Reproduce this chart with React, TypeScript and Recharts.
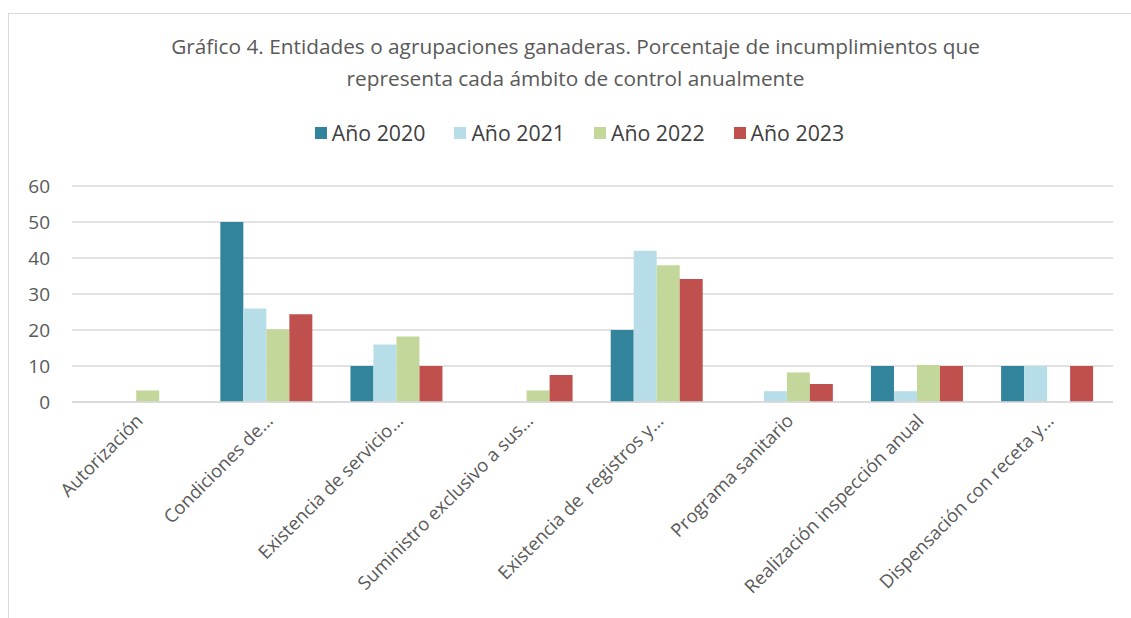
import React from 'react';
import { BarChart, Bar, XAxis, YAxis, CartesianGrid } from 'recharts';

const categories = [
  'Autorización',
  'Condiciones de…',
  'Existencia de servicio…',
  'Suministro exclusivo a sus…',
  'Existencia de  registros y…',
  'Programa sanitario',
  'Realización inspección anual',
  'Dispensación con receta y…',
];

const year2020 = [0, 50, 10, 0, 20, 0, 10, 10];
const year2021 = [0, 26, 16, 0, 42, 3, 3, 10];
const year2022 = [3.2, 20.2, 18.2, 3.2, 38, 8.2, 10.3, 0];
const year2023 = [0, 24.4, 10, 7.5, 34.2, 5, 10, 10];

const seriesNames = ['Año 2020', 'Año 2021', 'Año 2022', 'Año 2023'];
const seriesColors = ['#31849B', '#B7DEE8', '#C4D79B', '#C0504D'];
const yTicks = [0, 10, 20, 30, 40, 50, 60];

const titleLines = [
  'Gráfico 4. Entidades o agrupaciones ganaderas. Porcentaje de incumplimientos que',
  'representa cada ámbito de control anualmente',
];

const data = categories.map((name, i) => ({
  name,
  y2020: year2020[i],
  y2021: year2021[i],
  y2022: year2022[i],
  y2023: year2023[i],
}));
const keys = ['y2020', 'y2021', 'y2022', 'y2023'];

const FONT = '"Open Sans", Lato, sans-serif';

const AngledTick = (props: any) => {
  const { x, y, payload } = props;
  return (
    <g transform={`translate(${x + 7},${y + 12})`}>
      <text
        x={0}
        y={0}
        textAnchor="end"
        transform="rotate(-45)"
        fill="#595959"
        fontSize={18.4}
        fontFamily={FONT}
        style={{ whiteSpace: 'pre' }}
      >
        {payload.value}
      </text>
    </g>
  );
};

const App: React.FC = () => {
  return (
    <div style={{ position: 'absolute', left: 0, top: 0, width: 1131, height: 618, background: '#fff', fontFamily: FONT }}>
      <div style={{ position: 'absolute', left: 8, top: 13, width: 1123, height: 605, borderTop: '1.5px solid #d9d9d9', borderLeft: '1.5px solid #d9d9d9' }} />

      <div style={{ position: 'absolute', left: 0, top: 30, width: 1151, textAlign: 'center', color: '#595959', fontSize: 20.8, lineHeight: '32px' }}>
        {titleLines.map((t) => <div key={t}>{t}</div>)}
      </div>

      <div style={{ position: 'absolute', left: 14, top: 118, width: 1160, display: 'flex', justifyContent: 'center', color: '#404040', fontSize: 21.3, lineHeight: '30px' }}>
        {seriesNames.map((n, i) => (
          <div key={n} style={{ display: 'flex', alignItems: 'center', marginRight: 29 }}>
            <span style={{ display: 'inline-block', width: 12, height: 12, background: seriesColors[i], marginRight: 5 }} />
            <span>{n}</span>
          </div>
        ))}
      </div>

      <div style={{ position: 'absolute', left: 0, top: 0 }}>
        <BarChart
          width={1131}
          height={618}
          data={data}
          margin={{ top: 186, right: 18, bottom: 16, left: 0 }}
          barCategoryGap="14%"
          barGap={0}
        >
          <CartesianGrid vertical={false} stroke="#d9d9d9" strokeWidth={1.5} />
          <XAxis
            dataKey="name"
            interval={0}
            height={200}
            axisLine={{ stroke: '#d9d9d9', strokeWidth: 1.5 }}
            tickLine={false}
            tick={<AngledTick />}
          />
          <YAxis
            width={72}
            domain={[0, 60]}
            ticks={yTicks}
            axisLine={false}
            tickLine={false}
            tickSize={0}
            tickMargin={22}
            tick={{ fill: '#595959', fontSize: 19, fontFamily: FONT }}
          />
          {keys.map((k, i) => (
            <Bar key={k} dataKey={k} name={seriesNames[i]} fill={seriesColors[i]} isAnimationActive={false} />
          ))}
        </BarChart>
      </div>
    </div>
  );
};

export default App;
